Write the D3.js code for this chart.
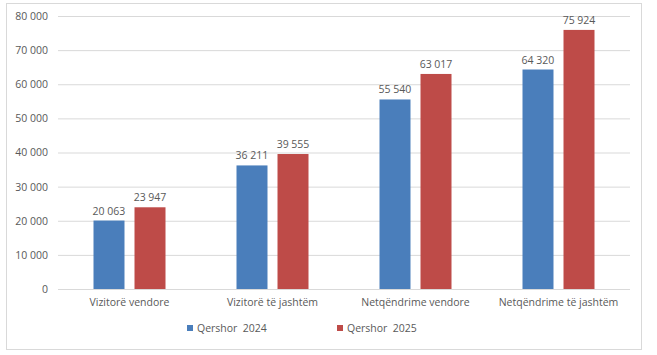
<!DOCTYPE html>
<html><head><meta charset="utf-8">
<script src="https://cdn.jsdelivr.net/npm/d3@7"></script>
<style>body{margin:0;background:#fff}svg{display:block}text{font-family:"Open Sans",sans-serif;fill:#595959}</style>
</head><body><svg id="c" width="657" height="355"></svg>
<script>
const categories = ["Vizitorë vendore", "Vizitorë të jashtëm", "Netqëndrime vendore", "Netqëndrime të jashtëm"];
const seriesNames = ["Qershor  2024", "Qershor  2025"];
const values2024 = [20063, 36211, 55540, 64320];
const values2025 = [23947, 39555, 63017, 75924];
const yTicks = [0, 10000, 20000, 30000, 40000, 50000, 60000, 70000, 80000];
const colors = ["#4a7ebb", "#be4b48"];

const svg = d3.select("#c");
const fmt = v => d3.format(",")(v).replace(/,/g, " ");
svg.append("rect").attr("x", 6.5).attr("y", 3.5).attr("width", 635).attr("height", 346)
  .attr("fill", "#fff").attr("stroke", "#d9d9d9");

const L = 58, R = 630, T = 16, B = 289;
const x0 = d3.scaleBand().domain(categories).range([L, R]);
const y = d3.scaleLinear().domain([0, 80000]).range([B, T]);
const x1 = d3.scaleBand().domain(seriesNames).range([0, 72]).paddingInner(0.244);

const yAxis = svg.append("g").attr("transform", `translate(${L},0)`)
  .call(d3.axisLeft(y).tickValues(yTicks).tickFormat(fmt).tickSize(-(R - L)).tickPadding(10));
yAxis.select(".domain").remove();
yAxis.selectAll("line").attr("stroke", d => d === 0 ? "#d9d9d9" : "#d9d9d9");
yAxis.selectAll("text").attr("font-size", 10.5).style("font-family", '"Open Sans",sans-serif').attr("fill", "#595959");

const data = [values2024, values2025];
seriesNames.forEach((s, si) => {
  const g = svg.append("g");
  categories.forEach((c, ci) => {
    const v = data[si][ci];
    const cx = x0(c) + x0.bandwidth() / 2 - 36;
    g.append("rect").attr("x", cx + x1(s)).attr("y", y(v))
      .attr("width", x1.bandwidth()).attr("height", y(0) - y(v)).attr("fill", colors[si]);
    g.append("text").attr("x", cx + x1(s) + x1.bandwidth() / 2).attr("y", y(v) - 6)
      .attr("text-anchor", "middle").attr("font-size", 10.5).text(fmt(v));
  });
});

const xAxis = svg.append("g").attr("transform", `translate(0,${B})`)
  .call(d3.axisBottom(x0).tickSize(0).tickPadding(10));
xAxis.select(".domain").remove();
xAxis.selectAll("text").attr("font-size", 10.5).style("font-family", '"Open Sans",sans-serif').attr("fill", "#595959");

const legX = [187, 337];
seriesNames.forEach((s, i) => {
  svg.append("rect").attr("x", legX[i]).attr("y", 325).attr("width", 6).attr("height", 6).attr("fill", colors[i]);
  svg.append("text").attr("x", legX[i] + 10).attr("y", 332).attr("font-size", 10.5)
    .style("white-space", "pre").text(s);
});
</script></body></html>
